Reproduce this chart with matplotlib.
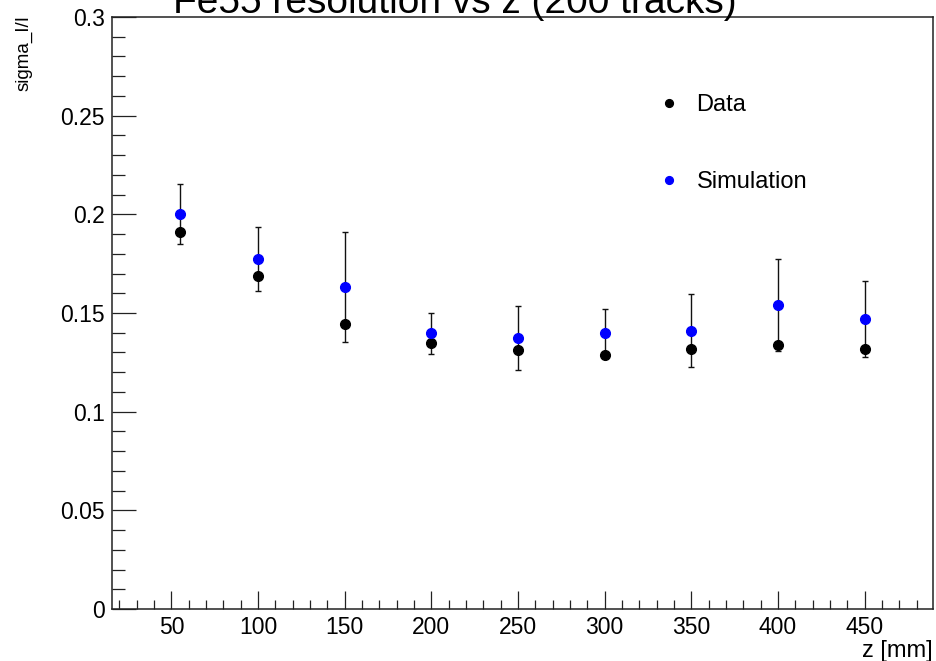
import matplotlib.pyplot as plt
from matplotlib.ticker import MultipleLocator, FuncFormatter


Z_MM = [55, 100, 150, 200, 250, 300, 350, 400, 450]

DATA_RES = [0.1912, 0.1689, 0.1444, 0.1347, 0.1313, 0.1287, 0.1319, 0.1340, 0.1316]

SIM_RES = [0.2004, 0.1774, 0.1632, 0.1397, 0.1372, 0.1399, 0.1411, 0.1541, 0.1470]
SIM_ERR = [0.0152, 0.0160, 0.0281, 0.0105, 0.0162, 0.0122, 0.0183, 0.0234, 0.0193]

TITLE = 'Fe55 resolution vs z (200 tracks)'
X_LABEL = 'z [mm]'
Y_LABEL = 'sigma_I/I'


def fmt_y(value, pos):
    # ROOT style labels: 0, 0.05, 0.1 ...
    text = f'{value:.2f}'.rstrip('0').rstrip('.')
    return text


def main():
    plt.rcParams['font.family'] = ['Liberation Sans', 'DejaVu Sans']

    fig = plt.figure(figsize=(9.37, 6.61), dpi=100)
    ax = fig.add_axes([111.7 / 937, 52 / 661, (933 - 111.7) / 937, (609 - 17) / 661])

    # simulation error bars first, markers on top
    ax.errorbar(Z_MM, SIM_RES, yerr=SIM_ERR, fmt='none', ecolor='#111111',
                elinewidth=1.0, capsize=2.2, capthick=1.0, zorder=2)
    ax.plot(Z_MM, DATA_RES, 'o', color='black', markersize=7, zorder=3, label='Data')
    ax.plot(Z_MM, SIM_RES, 'o', color='#0000ff', markersize=7, zorder=3, label='Simulation')

    ax.set_xlim(15.5, 489.5)
    ax.set_ylim(0, 0.3)

    ax.xaxis.set_major_locator(MultipleLocator(50))
    ax.xaxis.set_minor_locator(MultipleLocator(10))
    ax.yaxis.set_major_locator(MultipleLocator(0.05))
    ax.yaxis.set_minor_locator(MultipleLocator(0.01))
    ax.yaxis.set_major_formatter(FuncFormatter(fmt_y))

    ax.tick_params(axis='both', which='both', direction='in', colors='#222222',
                   width=0.9, labelsize=16.5, labelcolor='black',
                   top=False, right=False)
    ax.tick_params(axis='x', which='major', length=13, pad=5)
    ax.tick_params(axis='x', which='minor', length=6.5)
    ax.tick_params(axis='y', which='major', length=17.3, pad=5)
    ax.tick_params(axis='y', which='minor', length=9)

    for spine in ax.spines.values():
        spine.set_linewidth(1.1)
        spine.set_color('#222222')

    # axis titles placed ROOT-like (right / top aligned)
    fig.text(933 / 937, 1 - 657 / 661, X_LABEL, ha='right', va='baseline', fontsize=17)
    fig.text(33 / 937, 1 - 15 / 661, Y_LABEL, ha='right', va='bottom', rotation=90,
             fontsize=13.5, rotation_mode='anchor')

    fig.text(173 / 937, 1 - 13 / 661, TITLE, ha='left', va='baseline', fontsize=28)

    ax.legend(loc='upper left', bbox_to_anchor=(660 / 937, 1 - 94 / 661),
              bbox_transform=fig.transFigure, frameon=False, fontsize=17,
              numpoints=1, handlelength=0.8, handletextpad=0.75,
              labelspacing=2.35, borderpad=0, borderaxespad=0, markerscale=0.8)

    fig.savefig('out.png', dpi=100)


if __name__ == '__main__':
    main()
